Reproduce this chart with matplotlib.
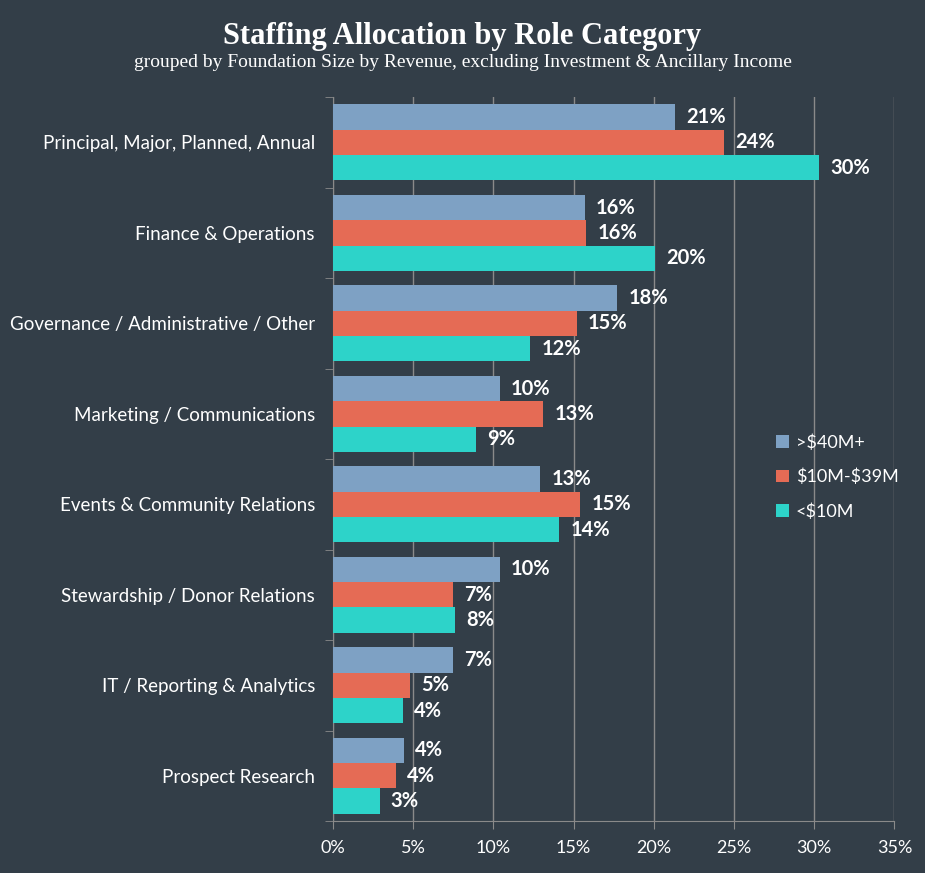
import numpy as np
import matplotlib.pyplot as plt
from matplotlib.ticker import FuncFormatter, FixedLocator

# Chart data
categories = [
    "Principal, Major, Planned, Annual",
    "Finance & Operations",
    "Governance / Administrative / Other",
    "Marketing / Communications",
    "Events & Community Relations",
    "Stewardship / Donor Relations",
    "IT / Reporting & Analytics",
    "Prospect Research",
]
series_names = [">$40M+", "$10M-$39M", "<$10M"]
large = [21.3, 15.7, 17.7, 10.4, 12.9, 10.4, 7.45, 4.4]
medium = [24.4, 15.8, 15.2, 13.1, 15.4, 7.45, 4.8, 3.9]
small = [30.3, 20.1, 12.3, 8.9, 14.1, 7.6, 4.35, 2.9]

bg = "#333e48"
colors = ["#7ea1c4", "#e56b55", "#2dd3c9"]
grid_color = "#8a8a8a"

plt.rcParams["font.family"] = ["Lato", "DejaVu Sans"]
plt.rcParams["text.parse_math"] = False

fig = plt.figure(figsize=(9.25, 8.73), dpi=100, facecolor=bg)
ax = fig.add_axes([0.360, 0.0596, 0.607, 0.829])
ax.set_facecolor(bg)

y = np.arange(len(categories))
bar_h = 0.28
for k, (vals, name) in enumerate(zip([large, medium, small], series_names)):
    pos = y + (k - 1) * bar_h
    ax.barh(pos, vals, height=bar_h, color=colors[k], label=name, zorder=3)
    for p, v in zip(pos, vals):
        ax.text(v + 0.7, p, f"{v:.0f}%", va="center", ha="left",
                color="white", fontsize=14.5, fontweight="bold", zorder=4)

ax.set_xlim(0, 35)
ax.set_ylim(len(categories) - 0.5, -0.5)
ax.set_xticks(np.arange(0, 36, 5))
ax.xaxis.set_major_formatter(FuncFormatter(lambda v, _: f"{v:.0f}%"))
ax.grid(axis="x", color=grid_color, linewidth=1, zorder=0)

ax.set_yticks(y)
ax.set_yticklabels(categories)
ax.yaxis.set_minor_locator(FixedLocator(np.arange(-0.5, len(categories), 1)))
ax.tick_params(axis="y", which="major", length=0, pad=13, labelsize=13.5, colors="white")
ax.tick_params(axis="y", which="minor", length=6, color=grid_color, direction="out")
ax.tick_params(axis="x", length=6, color=grid_color, labelsize=13, colors="white", pad=8)
ax.tick_params(axis="x", color=grid_color)

for side in ["top", "right"]:
    ax.spines[side].set_visible(False)
for side in ["left", "bottom"]:
    ax.spines[side].set_color(grid_color)

leg = ax.legend(loc="center left", bbox_to_anchor=(0.76, 0.475), frameon=False,
                fontsize=13, labelcolor="white", handlelength=0.7,
                handleheight=0.7, handletextpad=0.4, labelspacing=1.0)

fig.text(0.5, 0.958, "Staffing Allocation by Role Category", ha="center", va="center",
         color="white", fontsize=22, fontweight="bold", family=["Liberation Serif"])
fig.text(0.5, 0.928, "grouped by Foundation Size by Revenue, excluding Investment & Ancillary Income",
         ha="center", va="center", color="white", fontsize=14, family=["Liberation Serif"])

fig.savefig("out.png", dpi=100, facecolor=bg)
